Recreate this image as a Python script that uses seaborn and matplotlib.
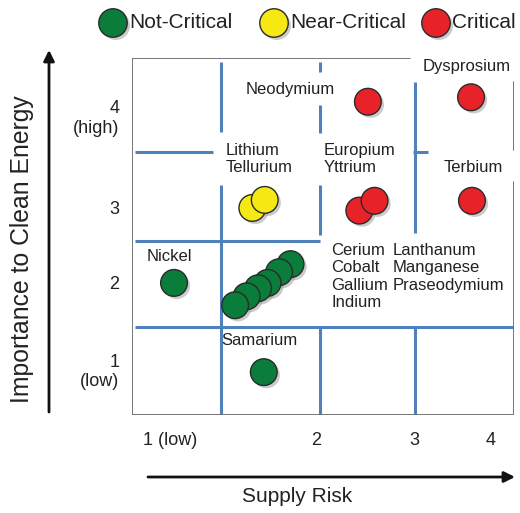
import matplotlib
matplotlib.use("Agg")
import matplotlib.pyplot as plt
import matplotlib.patheffects as pe
import pandas as pd
import seaborn as sns

# ---------------------------------------------
# Data (supply risk, importance to clean energy)
# ---------------------------------------------
categories = ["Not-Critical", "Near-Critical", "Critical"]
colors = ["#0b7d3a", "#f6e913", "#e82229"]

supply_risk = [0.94, 1.88, 2.16, 2.04, 1.92, 1.82, 1.70, 1.58,
               1.76, 1.89,
               2.97, 4.05, 2.88, 3.04, 4.06]
importance = [1.98, 0.98, 2.19, 2.10, 1.98, 1.92, 1.83, 1.73,
              2.82, 2.91,
              4.01, 4.06, 2.79, 2.90, 2.90]
criticality = ["Not-Critical"] * 8 + ["Near-Critical"] * 2 + ["Critical"] * 5

x_tick_pos = [0.9, 2.43, 3.46, 4.25]
x_tick_labels = ["1 (low)", "2", "3", "4"]
y_tick_pos = [1.02, 1.98, 2.82, 3.86]
y_tick_labels = ["1\n(low)", "2", "3", "4\n(high)"]

df = pd.DataFrame({"risk": supply_risk, "importance": importance, "cat": criticality})

sns.set_style("white")
plt.rcParams["font.family"] = ["Liberation Sans", "DejaVu Sans"]

fig = plt.figure(figsize=(5.2, 5.13), dpi=100)
ax = fig.add_axes([132 / 520, 98 / 513, 382 / 520, 357 / 513])
ax.set_xlim(0.5, 4.5)
ax.set_ylim(0.5, 4.5)
for s in ax.spines.values():
    s.set_visible(False)

# -------------------------------
# Grid segments (gaps for labels)
# -------------------------------
blue = "#4f81bd"
grey = "#6b6b6b"
v_segments = [(1.43, 3.67, 4.455), (1.43, 0.5, 3.08),
              (2.47, 4.34, 4.455), (2.47, 3.66, 3.97), (2.47, 2.52, 3.08), (2.47, 0.5, 1.49),
              (3.46, 2.54, 4.23), (3.46, 0.5, 1.49)]
h_segments = [(3.45, 0.53, 1.35), (3.45, 3.44, 3.60),
              (2.45, 0.53, 2.47), (1.49, 0.53, 4.5)]
for x, y0, y1 in v_segments:
    ax.plot([x, x], [y0, y1], color=blue, lw=2.2, solid_capstyle="butt", zorder=1)
for y, x0, x1 in h_segments:
    ax.plot([x0, x1], [y, y], color=blue, lw=2.2, solid_capstyle="butt", zorder=1)

# border
border = [([0.5, 0.5], [0.5, 4.5]), ([0.5, 4.5], [0.5, 0.5]),
          ([0.5, 3.41], [4.5, 4.5]), ([4.5, 4.5], [3.47, 4.23]),
          ([4.5, 4.5], [0.5, 3.11])]
for bx, by in border:
    ax.plot(bx, by, color=grey, lw=1.3, zorder=1)

# -------------------------------
# Points
# -------------------------------
shadow = [pe.SimplePatchShadow(offset=(2, -2), shadow_rgbFace="#999999", alpha=0.5), pe.Normal()]
sns.scatterplot(data=df, x="risk", y="importance", hue="cat", hue_order=categories,
                palette=colors, s=370, edgecolor="#2a2a2a", linewidth=1.0,
                legend=False, ax=ax, zorder=3)
for coll in ax.collections:
    coll.set_path_effects(shadow)
ax.set_xlabel("")
ax.set_ylabel("")

# -------------------------------
# Labels
# -------------------------------
fs = 12
tc = "#222222"
ax.text(1.69, 4.15, "Neodymium", fontsize=fs, color=tc, va="center")
ax.text(3.54, 4.40, "Dysprosium", fontsize=fs, color=tc, va="center")
ax.text(1.48, 3.37, "Lithium\nTellurium", fontsize=fs, color=tc, va="center")
ax.text(2.51, 3.37, "Europium\nYttrium", fontsize=fs, color=tc, va="center")
ax.text(3.76, 3.27, "Terbium", fontsize=fs, color=tc, va="center")
ax.text(0.65, 2.28, "Nickel", fontsize=fs, color=tc, va="center")
ax.text(1.83, 1.33, "Samarium", fontsize=fs, color=tc, va="center", ha="center")
ax.text(2.59, 2.43, "Cerium\nCobalt\nGallium\nIndium", fontsize=fs, color=tc, va="top")
ax.text(3.23, 2.43, "Lanthanum\nManganese\nPraseodymium", fontsize=fs, color=tc, va="top")

ax.set_xticks(x_tick_pos)
ax.set_xticklabels(x_tick_labels, fontsize=13, color=tc)
ax.set_yticks(y_tick_pos)
ax.set_yticklabels(y_tick_labels, fontsize=13, color=tc)
ax.tick_params(axis="both", length=0)
ax.tick_params(axis="x", pad=12)
ax.tick_params(axis="y", pad=9)

# -------------------------------
# Axis arrows and titles
# -------------------------------
arrow = dict(arrowstyle="-|>", color="#111111", lw=2, mutation_scale=16, shrinkA=0, shrinkB=0)
ax.annotate("", xy=(49, 463), xytext=(49, 101), xycoords="figure pixels",
            textcoords="figure pixels", arrowprops=arrow, annotation_clip=False)
ax.annotate("", xy=(515, 36), xytext=(148, 36), xycoords="figure pixels",
            textcoords="figure pixels", arrowprops=arrow, annotation_clip=False)
fig.text(297 / 520, 17 / 513, "Supply Risk", fontsize=15, color=tc, ha="center", va="center")
fig.text(22 / 520, 264 / 513, "Importance to Clean Energy", fontsize=17.8, color=tc,
         ha="center", va="center", rotation=90)

# -------------------------------
# Legend (manual placement, figure pixels)
# -------------------------------
lax = fig.add_axes([0, 0, 1, 1], facecolor="none")
lax.set_xlim(0, 520)
lax.set_ylim(0, 513)
lax.axis("off")
legend_x = [113, 274, 436]
for lx, c, lab in zip(legend_x, colors, categories):
    lax.scatter([lx], [490], s=420, color=c, edgecolor="#2a2a2a", linewidth=1.0,
                path_effects=shadow, zorder=3)
    lax.text(lx + 16, 490, lab, fontsize=15, color=tc, va="center", ha="left")

fig.savefig("out.png", dpi=100)
